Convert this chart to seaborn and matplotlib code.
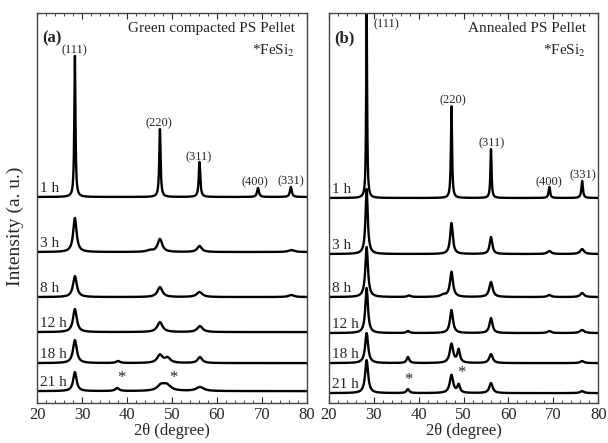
import numpy as np
import pandas as pd
import seaborn as sns
import matplotlib.pyplot as plt
from matplotlib.ticker import MultipleLocator

# =========================================================
# DATA (peak lists: 2theta, height, FWHM)
# =========================================================
TIMES = ["1 h", "3 h", "8 h", "12 h", "18 h", "21 h"]

PEAKS_GREEN = {
    "1 h": [(28.4, 141, 0.30), (47.3, 68, 0.35), (56.1, 35, 0.40), (69.1, 9, 0.5), (76.4, 10, 0.5)],
    "3 h": [(28.4, 34, 0.9), (47.3, 13, 1.2), (56.1, 6, 1.2), (45.0, 1.5, 1.5), (76.5, 2, 1.5)],
    "8 h": [(28.4, 21, 1.0), (47.3, 10, 1.3), (56.1, 5, 1.5), (76.5, 2, 1.5)],
    "12 h": [(28.4, 23, 1.0), (47.3, 10, 1.4), (56.2, 6, 1.4)],
    "18 h": [(28.4, 23, 1.0), (38.0, 2, 1.0), (47.3, 8, 1.4), (49.0, 5, 1.5), (56.2, 6, 1.2)],
    "21 h": [(28.4, 19, 0.9), (37.8, 3, 1.0), (47.5, 5, 1.8), (48.8, 6, 2.2), (56.2, 4, 2.0)],
}

PEAKS_ANNEALED = {
    "1 h": [(28.4, 190, 0.25), (47.3, 92, 0.30), (56.1, 49, 0.30), (69.1, 11, 0.4), (76.4, 17, 0.4)],
    "3 h": [(28.4, 65, 0.6), (47.3, 31, 0.7), (56.1, 17, 0.7), (69.1, 3, 1.0), (76.4, 5, 1.0)],
    "8 h": [(28.4, 50, 0.7), (37.8, 1.5, 0.8), (45.5, 2, 1.5), (47.3, 25, 0.8), (56.1, 15, 0.9),
            (69.1, 2, 1.0), (76.4, 4, 1.0)],
    "12 h": [(28.4, 45, 0.7), (37.6, 2, 0.8), (47.3, 23, 0.8), (56.1, 15, 0.8), (69.1, 2, 1.0),
             (76.4, 3, 1.2)],
    "18 h": [(28.4, 30, 0.8), (37.6, 6, 0.7), (47.3, 19, 0.9), (48.9, 13, 0.7), (56.1, 9, 0.9),
             (76.4, 2, 1.0)],
    "21 h": [(28.4, 33, 0.8), (37.6, 4, 0.7), (47.3, 18, 0.9), (48.9, 8, 0.7), (56.1, 10, 0.9),
             (76.4, 2, 1.0)],
}

OFFSETS_GREEN = [206, 151, 106, 71, 40, 12]
OFFSETS_ANNEALED = [205, 149, 106, 70, 40, 10]

HKL = ["(111)", "(220)", "(311)", "(400)", "(331)"]
HKL_POS_GREEN = [(28.2, 353), (47.1, 280), (55.8, 246), (68.4, 221), (76.4, 222)]
HKL_POS_ANNEALED = [(32.8, 379), (47.7, 303), (56.3, 260), (69.0, 221), (76.5, 228)]

STAR_GREEN = [(38.7, 25), (50.3, 25)]
STAR_ANNEALED = [(37.8, 23), (49.5, 30)]


def pattern(tt, peaks):
    y = np.zeros_like(tt)
    for pos, h, w in peaks:
        g = 0.5 * w
        y += h * g**2 / ((tt - pos) ** 2 + g**2)
    return y


tt = np.linspace(20, 80, 3000)

# =========================================================
# FIGURE
# =========================================================
sns.set_style("ticks")
plt.rcParams["font.family"] = ["Liberation Serif", "DejaVu Serif"]
plt.rcParams["mathtext.fontset"] = "stix"

fig = plt.figure(figsize=(6.08, 4.43), dpi=100)
ax_a = fig.add_axes([0.061, 0.090, 0.444, 0.881])
ax_b = fig.add_axes([0.541, 0.090, 0.443, 0.881])

panels = [
    (ax_a, PEAKS_GREEN, OFFSETS_GREEN, HKL_POS_GREEN, STAR_GREEN, "(a)", "Green compacted PS Pellet"),
    (ax_b, PEAKS_ANNEALED, OFFSETS_ANNEALED, HKL_POS_ANNEALED, STAR_ANNEALED, "(b)", "Annealed PS Pellet"),
]

for ax, peaks, offsets, hkl_pos, stars, tag, title in panels:
    for t, off in zip(TIMES, offsets):
        df = pd.DataFrame({"tt": tt, "I": pattern(tt, peaks[t]) + off})
        sns.lineplot(data=df, x="tt", y="I", ax=ax, color="black", lw=1.7, estimator=None)
        ax.text(20.6, off + 2, t, fontsize=11, ha="left", va="bottom")

    for lbl, (x, y) in zip(HKL, hkl_pos):
        ax.text(x, y, lbl, fontsize=9, ha="center", va="center")
    for x, y in stars:
        ax.text(x, y, "*", fontsize=12, ha="center", va="center")

    ax.text(0.02, 0.935, tag, transform=ax.transAxes, fontsize=12, fontweight="bold",
            ha="left", va="center")
    ax.text(0.955, 0.96, title, transform=ax.transAxes, fontsize=11, ha="right", va="center")
    ax.text(0.955, 0.902, "*FeSi$_2$", transform=ax.transAxes, fontsize=11, ha="right", va="center")

    ax.set_xlim(20, 80)
    ax.set_ylim(0, 390)
    ax.set_yticks([])
    ax.set_ylabel("")
    ax.set_xlabel("2θ (degree)", fontsize=12, labelpad=0)
    ax.xaxis.set_major_locator(MultipleLocator(10))
    ax.xaxis.set_minor_locator(MultipleLocator(2))
    ax.tick_params(axis="x", which="both", direction="in", top=True, labelsize=12, pad=3)
    ax.tick_params(axis="x", which="major", length=4)
    ax.tick_params(axis="x", which="minor", length=2)
    for s in ax.spines.values():
        s.set_color("#444444")
        s.set_linewidth(1.0)

fig.text(0.026, 0.49, "Intensity (a. u.)", rotation=90, fontsize=14, ha="center", va="center")

plt.savefig("out.png", dpi=100)
